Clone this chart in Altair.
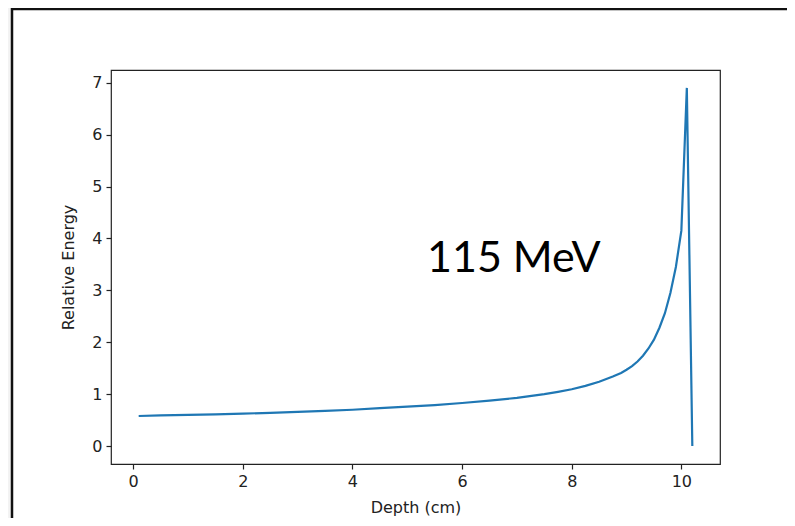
import altair as alt
import pandas as pd

# Data
depth = [0.1, 0.5, 1.0, 1.5, 2.0, 2.5, 3.0, 3.5, 4.0, 4.5, 5.0, 5.5, 6.0, 6.5,
         7.0, 7.5, 7.75, 8.0, 8.25, 8.5, 8.75, 8.9, 9.0, 9.1, 9.2, 9.3, 9.4,
         9.5, 9.6, 9.7, 9.8, 9.9, 10.0, 10.1, 10.2]
energy = [0.58, 0.59, 0.60, 0.61, 0.625, 0.64, 0.66, 0.68, 0.70, 0.73, 0.76,
          0.79, 0.83, 0.875, 0.93, 1.00, 1.045, 1.095, 1.16, 1.24, 1.34, 1.41,
          1.47, 1.54, 1.63, 1.74, 1.88, 2.05, 2.28, 2.56, 2.95, 3.45, 4.15,
          6.9, 0.0]
x_ticks = [0, 2, 4, 6, 8, 10]
y_ticks = [0, 1, 2, 3, 4, 5, 6, 7]
label_text = ["115 MeV"]
label_x = [5.36]
label_y = [3.36]

df = pd.DataFrame({"depth": depth, "energy": energy})
lab = pd.DataFrame({"depth": label_x, "energy": label_y, "text": label_text})

W, H = 609, 394
xs = alt.Scale(domain=[-0.405, 10.705], nice=False, zero=False)
ys = alt.Scale(domain=[-0.345, 7.245], nice=False, zero=False)

line = alt.Chart(df).mark_line(color="#1f77b4", strokeWidth=2.2).encode(
    x=alt.X("depth:Q", scale=xs,
            axis=alt.Axis(values=x_ticks, format="d", title="Depth (cm)", titlePadding=10)),
    y=alt.Y("energy:Q", scale=ys,
            axis=alt.Axis(values=y_ticks, format="d", title="Relative Energy", titlePadding=15)),
    order=alt.Order("depth:Q"),
)

txt = alt.Chart(lab).mark_text(
    font="Lato", fontSize=43, align="left", baseline="alphabetic", color="#000"
).encode(x=alt.X("depth:Q", scale=xs), y=alt.Y("energy:Q", scale=ys), text="text:N")

one = alt.Data(values=[{}])
gray = alt.Chart(one).mark_rect(fill="#f3f3f3").encode(
    x=alt.value(-103), x2=alt.value(-99), y=alt.value(-62), y2=alt.value(460))
left_line = alt.Chart(one).mark_rule(color="#111", strokeWidth=2.5).encode(
    x=alt.value(-99), y=alt.value(-62), y2=alt.value(460))
top_line = alt.Chart(one).mark_rule(color="#111", strokeWidth=2.5).encode(
    x=alt.value(-99), x2=alt.value(700), y=alt.value(-61))

chart = alt.layer(gray, left_line, top_line, line, txt).properties(
    width=W, height=H,
    autosize=alt.AutoSizeParams(type="none"),
    padding={"left": 103, "top": 62, "right": 67, "bottom": 54},
).configure_view(stroke="#222", strokeWidth=1.2).configure_axis(
    grid=False, domain=False, tickSize=5, tickColor="#222", tickWidth=1.2,
    labelFont="DejaVu Sans", labelFontSize=16, labelColor="#222", labelPadding=4,
    titleFont="DejaVu Sans", titleFontSize=16, titleFontWeight="normal", titleColor="#222",
)

chart.save("out.html", embed_options={"renderer": "svg", "actions": False})
